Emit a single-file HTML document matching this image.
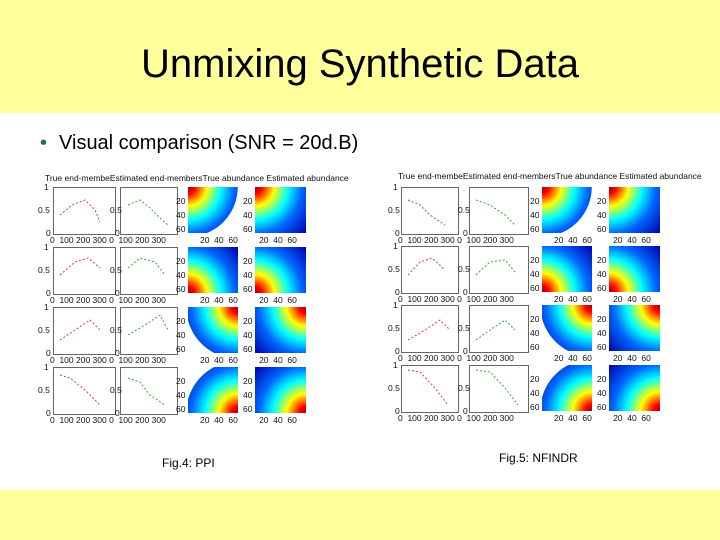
<!DOCTYPE html>
<html><head><meta charset="utf-8"><style>
body{margin:0;width:720px;height:540px;position:relative;background:#fff;font-family:"Liberation Sans",sans-serif;overflow:hidden}
.hdr{position:absolute;left:0;top:0;width:720px;height:113px;background:#ffff9c}
.ftr{position:absolute;left:0;top:490px;width:720px;height:50px;background:#ffff9c}
h1{position:absolute;left:0;top:42px;width:720px;margin:0;text-align:center;font-weight:normal;font-size:40px;color:#000}
.b{position:absolute;left:40px;top:132px;font-size:20px}
.b span{color:#1b6b5b;margin-right:12px}
.p{position:absolute;border:1px solid #666;background:#fff}
.h{position:absolute}
.t{position:absolute;font-size:8.5px;color:#111;white-space:nowrap;line-height:9px}
.cap{position:absolute;font-size:12px}
.r1{background:radial-gradient(circle at 0 0,#900 0,#f00 10%,#ff0 28%,#0ff 48%,#06f 68%,#00a 100%)}
.r2{background:radial-gradient(circle at 0 100%,#900 0,#f00 10%,#ff0 28%,#0ff 48%,#06f 68%,#00a 100%)}
.r3{background:radial-gradient(circle at 100% 0,#900 0,#f00 10%,#ff0 28%,#0ff 48%,#06f 68%,#00a 100%)}
.r4{background:radial-gradient(circle at 100% 100%,#900 0,#f00 10%,#ff0 28%,#0ff 48%,#06f 68%,#00a 100%)}
.w1{background:radial-gradient(circle 50px at 0 0,transparent 99%,#fff 100%),radial-gradient(circle at 0 0,#900 0,#f00 10%,#ff0 28%,#0ff 48%,#06f 68%,#00a 100%)}
.w3{background:radial-gradient(circle 52px at 100% 0,transparent 99%,#fff 100%),radial-gradient(circle at 100% 0,#900 0,#f00 10%,#ff0 28%,#0ff 48%,#06f 68%,#00a 100%)}
.w4{background:radial-gradient(circle 52px at 100% 100%,transparent 99%,#fff 100%),radial-gradient(circle at 100% 100%,#900 0,#f00 10%,#ff0 28%,#0ff 48%,#06f 68%,#00a 100%)}
</style></head><body>
<div class="hdr"></div><div class="ftr"></div>
<h1>Unmixing Synthetic Data</h1>
<div class="b"><span>•</span>Visual comparison (SNR = 20d.B)</div>

<div class="t" style="left:45px;top:174px">True end-membeEstimated end-membersTrue abundance Estimated abundance</div>
<div class="t" style="left:398px;top:172px">True end-membeEstimated end-membersTrue abundance Estimated abundance</div>

<div class="p" style="left:53px;top:187px;width:61px;height:46px"></div>
<div class="p" style="left:120px;top:187px;width:56px;height:46px"></div>
<div class="h w1" style="left:188px;top:187px;width:50px;height:46px"></div>
<div class="h r1" style="left:255px;top:187px;width:51px;height:46px"></div>
<div class="p" style="left:53px;top:247px;width:61px;height:46px"></div>
<div class="p" style="left:120px;top:247px;width:56px;height:46px"></div>
<div class="h r2" style="left:188px;top:247px;width:50px;height:46px"></div>
<div class="h r2" style="left:255px;top:247px;width:51px;height:46px"></div>
<div class="p" style="left:53px;top:307px;width:61px;height:46px"></div>
<div class="p" style="left:120px;top:307px;width:56px;height:46px"></div>
<div class="h w3" style="left:188px;top:307px;width:50px;height:46px"></div>
<div class="h r3" style="left:255px;top:307px;width:51px;height:46px"></div>
<div class="p" style="left:53px;top:367px;width:61px;height:46px"></div>
<div class="p" style="left:120px;top:367px;width:56px;height:46px"></div>
<div class="h w4" style="left:188px;top:367px;width:50px;height:46px"></div>
<div class="h r4" style="left:255px;top:367px;width:51px;height:46px"></div>

<div class="p" style="left:401px;top:187px;width:56px;height:46px"></div>
<div class="p" style="left:469px;top:187px;width:58px;height:46px"></div>
<div class="h w1" style="left:542px;top:187px;width:50px;height:46px"></div>
<div class="h r1" style="left:609px;top:187px;width:51px;height:46px"></div>
<div class="p" style="left:401px;top:246px;width:56px;height:46px"></div>
<div class="p" style="left:469px;top:246px;width:58px;height:46px"></div>
<div class="h r2" style="left:542px;top:246px;width:50px;height:46px"></div>
<div class="h r2" style="left:609px;top:246px;width:51px;height:46px"></div>
<div class="p" style="left:401px;top:305px;width:56px;height:46px"></div>
<div class="p" style="left:469px;top:305px;width:58px;height:46px"></div>
<div class="h w3" style="left:542px;top:305px;width:50px;height:46px"></div>
<div class="h r3" style="left:609px;top:305px;width:51px;height:46px"></div>
<div class="p" style="left:401px;top:365px;width:56px;height:46px"></div>
<div class="p" style="left:469px;top:365px;width:58px;height:46px"></div>
<div class="h w4" style="left:542px;top:365px;width:50px;height:46px"></div>
<div class="h r4" style="left:609px;top:365px;width:51px;height:46px"></div>

<div class="t" style="left:44px;top:183px">1</div><div class="t" style="left:38px;top:206px">0.5</div><div class="t" style="left:46px;top:229px">0</div>
<div class="t" style="left:110px;top:206px">0.5</div><div class="t" style="left:115px;top:229px">0</div>
<div class="t" style="left:50px;top:236px">0 &nbsp;100 200 300 0 &nbsp;100 200 300</div>
<div class="t" style="left:176px;top:197px">20</div><div class="t" style="left:176px;top:211px">40</div><div class="t" style="left:176px;top:225px">60</div>
<div class="t" style="left:243px;top:197px">20</div><div class="t" style="left:243px;top:211px">40</div><div class="t" style="left:243px;top:225px">60</div>
<div class="t" style="left:200px;top:236px">20 &nbsp;40 &nbsp;60 &nbsp; &nbsp; &nbsp; &nbsp; 20 &nbsp;40 &nbsp;60</div>

<div class="t" style="left:44px;top:243px">1</div><div class="t" style="left:38px;top:266px">0.5</div><div class="t" style="left:46px;top:289px">0</div>
<div class="t" style="left:110px;top:266px">0.5</div><div class="t" style="left:115px;top:289px">0</div>
<div class="t" style="left:50px;top:296px">0 &nbsp;100 200 300 0 &nbsp;100 200 300</div>
<div class="t" style="left:176px;top:257px">20</div><div class="t" style="left:176px;top:271px">40</div><div class="t" style="left:176px;top:285px">60</div>
<div class="t" style="left:243px;top:257px">20</div><div class="t" style="left:243px;top:271px">40</div><div class="t" style="left:243px;top:285px">60</div>
<div class="t" style="left:200px;top:296px">20 &nbsp;40 &nbsp;60 &nbsp; &nbsp; &nbsp; &nbsp; 20 &nbsp;40 &nbsp;60</div>

<div class="t" style="left:44px;top:303px">1</div><div class="t" style="left:38px;top:326px">0.5</div><div class="t" style="left:46px;top:349px">0</div>
<div class="t" style="left:110px;top:326px">0.5</div><div class="t" style="left:115px;top:349px">0</div>
<div class="t" style="left:50px;top:356px">0 &nbsp;100 200 300 0 &nbsp;100 200 300</div>
<div class="t" style="left:176px;top:317px">20</div><div class="t" style="left:176px;top:331px">40</div><div class="t" style="left:176px;top:345px">60</div>
<div class="t" style="left:243px;top:317px">20</div><div class="t" style="left:243px;top:331px">40</div><div class="t" style="left:243px;top:345px">60</div>
<div class="t" style="left:200px;top:356px">20 &nbsp;40 &nbsp;60 &nbsp; &nbsp; &nbsp; &nbsp; 20 &nbsp;40 &nbsp;60</div>

<div class="t" style="left:44px;top:363px">1</div><div class="t" style="left:38px;top:386px">0.5</div><div class="t" style="left:46px;top:409px">0</div>
<div class="t" style="left:110px;top:386px">0.5</div><div class="t" style="left:115px;top:409px">0</div>
<div class="t" style="left:50px;top:416px">0 &nbsp;100 200 300 0 &nbsp;100 200 300</div>
<div class="t" style="left:176px;top:377px">20</div><div class="t" style="left:176px;top:391px">40</div><div class="t" style="left:176px;top:405px">60</div>
<div class="t" style="left:243px;top:377px">20</div><div class="t" style="left:243px;top:391px">40</div><div class="t" style="left:243px;top:405px">60</div>
<div class="t" style="left:200px;top:416px">20 &nbsp;40 &nbsp;60 &nbsp; &nbsp; &nbsp; &nbsp; 20 &nbsp;40 &nbsp;60</div>

<div class="t" style="left:393px;top:183px">1</div><div class="t" style="left:388px;top:206px">0.5</div><div class="t" style="left:395px;top:229px">0</div>
<div class="t" style="left:458px;top:206px">0.5</div><div class="t" style="left:463px;top:229px">0</div>
<div class="t" style="left:398px;top:236px">0 &nbsp;100 200 300 0 &nbsp;100 200 300</div>
<div class="t" style="left:530px;top:197px">20</div><div class="t" style="left:530px;top:211px">40</div><div class="t" style="left:530px;top:225px">60</div>
<div class="t" style="left:597px;top:197px">20</div><div class="t" style="left:597px;top:211px">40</div><div class="t" style="left:597px;top:225px">60</div>
<div class="t" style="left:554px;top:236px">20 &nbsp;40 &nbsp;60 &nbsp; &nbsp; &nbsp; &nbsp; 20 &nbsp;40 &nbsp;60</div>

<div class="t" style="left:393px;top:242px">1</div><div class="t" style="left:388px;top:265px">0.5</div><div class="t" style="left:395px;top:288px">0</div>
<div class="t" style="left:458px;top:265px">0.5</div><div class="t" style="left:463px;top:288px">0</div>
<div class="t" style="left:398px;top:295px">0 &nbsp;100 200 300 0 &nbsp;100 200 300</div>
<div class="t" style="left:530px;top:256px">20</div><div class="t" style="left:530px;top:270px">40</div><div class="t" style="left:530px;top:284px">60</div>
<div class="t" style="left:597px;top:256px">20</div><div class="t" style="left:597px;top:270px">40</div><div class="t" style="left:597px;top:284px">60</div>
<div class="t" style="left:554px;top:295px">20 &nbsp;40 &nbsp;60 &nbsp; &nbsp; &nbsp; &nbsp; 20 &nbsp;40 &nbsp;60</div>

<div class="t" style="left:393px;top:301px">1</div><div class="t" style="left:388px;top:324px">0.5</div><div class="t" style="left:395px;top:347px">0</div>
<div class="t" style="left:458px;top:324px">0.5</div><div class="t" style="left:463px;top:347px">0</div>
<div class="t" style="left:398px;top:354px">0 &nbsp;100 200 300 0 &nbsp;100 200 300</div>
<div class="t" style="left:530px;top:315px">20</div><div class="t" style="left:530px;top:329px">40</div><div class="t" style="left:530px;top:343px">60</div>
<div class="t" style="left:597px;top:315px">20</div><div class="t" style="left:597px;top:329px">40</div><div class="t" style="left:597px;top:343px">60</div>
<div class="t" style="left:554px;top:354px">20 &nbsp;40 &nbsp;60 &nbsp; &nbsp; &nbsp; &nbsp; 20 &nbsp;40 &nbsp;60</div>

<div class="t" style="left:393px;top:361px">1</div><div class="t" style="left:388px;top:384px">0.5</div><div class="t" style="left:395px;top:407px">0</div>
<div class="t" style="left:458px;top:384px">0.5</div><div class="t" style="left:463px;top:407px">0</div>
<div class="t" style="left:398px;top:414px">0 &nbsp;100 200 300 0 &nbsp;100 200 300</div>
<div class="t" style="left:530px;top:375px">20</div><div class="t" style="left:530px;top:389px">40</div><div class="t" style="left:530px;top:403px">60</div>
<div class="t" style="left:597px;top:375px">20</div><div class="t" style="left:597px;top:389px">40</div><div class="t" style="left:597px;top:403px">60</div>
<div class="t" style="left:554px;top:414px">20 &nbsp;40 &nbsp;60 &nbsp; &nbsp; &nbsp; &nbsp; 20 &nbsp;40 &nbsp;60</div>

<svg style="position:absolute;left:0;top:0" width="720" height="540">
<g fill="none" stroke-width="1" stroke-dasharray="2,2">
<polyline stroke="#c44" points="60,215 72,205 85,200 95,210 100,222"/>
<polyline stroke="#3a3" points="128,205 140,200 150,208 160,218 168,225"/>
<polyline stroke="#c44" points="60,275 75,262 88,258 100,268"/>
<polyline stroke="#3a3" points="128,268 140,258 155,262 165,275"/>
<polyline stroke="#c44" points="60,340 75,330 90,320 100,330"/>
<polyline stroke="#3a3" points="128,335 145,325 160,315 168,330"/>
<polyline stroke="#c44" points="60,375 70,378 85,390 100,405"/>
<polyline stroke="#3a3" points="128,378 140,382 150,395 165,405"/>
<polyline stroke="#c44" points="408,200 420,205 430,215 445,225"/>
<polyline stroke="#3a3" points="476,200 490,205 505,215 515,225"/>
<polyline stroke="#c44" points="408,275 420,262 432,258 445,270"/>
<polyline stroke="#3a3" points="476,275 490,262 505,260 515,272"/>
<polyline stroke="#c44" points="408,340 425,330 440,320 450,330"/>
<polyline stroke="#3a3" points="476,340 490,330 505,320 515,330"/>
<polyline stroke="#c44" points="408,370 420,372 435,388 448,405"/>
<polyline stroke="#3a3" points="476,370 490,372 505,388 518,405"/>
</g></svg>

<div class="cap" style="left:162px;top:456px">Fig.4: PPI</div>
<div class="cap" style="left:499px;top:451px">Fig.5: NFINDR</div>
</body></html>
